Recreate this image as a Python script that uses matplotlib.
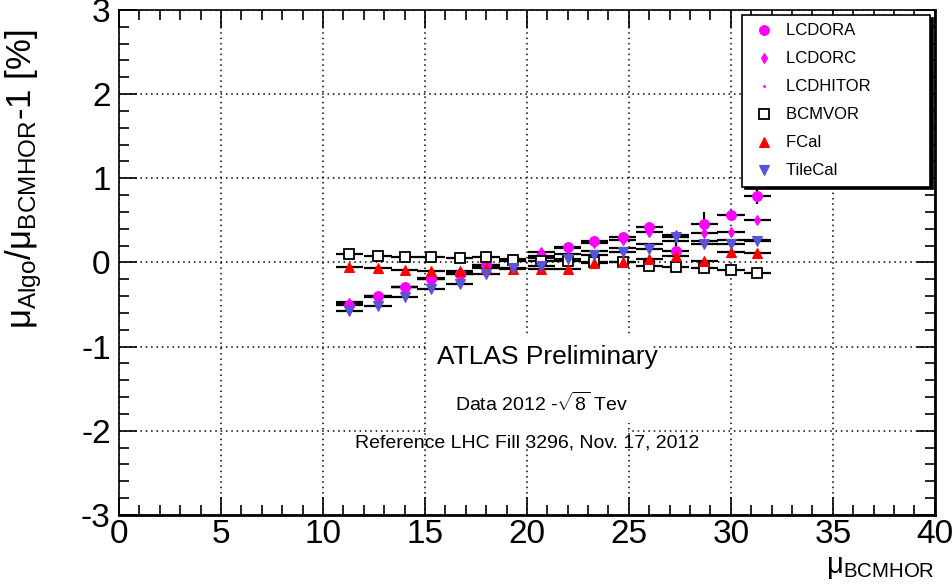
import matplotlib.pyplot as plt
from matplotlib.patches import Rectangle
from matplotlib.ticker import MultipleLocator

plt.rcParams['font.family'] = ['Liberation Sans', 'DejaVu Sans']
plt.rcParams['mathtext.fontset'] = 'custom'
plt.rcParams['mathtext.rm'] = 'Liberation Sans'
plt.rcParams['mathtext.it'] = 'Liberation Sans:italic'
plt.rcParams['mathtext.default'] = 'regular'
plt.rcParams['axes.unicode_minus'] = False

# bin centres of mu_BCMHOR and half bin width
mu = [11.3, 12.7, 14.0, 15.3, 16.7, 18.0, 19.3, 20.7,
      22.0, 23.3, 24.7, 26.0, 27.3, 28.7, 30.0, 31.3]
half_bin = 0.67

lcdora = [-0.50, -0.40, -0.29, -0.20, -0.14, -0.03, 0.04, 0.08,
          0.18, 0.25, 0.30, 0.42, 0.14, 0.46, 0.56, 0.79]
lcdora_err = [0.03, 0.03, 0.03, 0.03, 0.03, 0.03, 0.03, 0.03,
              0.03, 0.03, 0.03, 0.05, 0.22, 0.14, 0.06, 0.10]
lcdorc = [-0.48, -0.41, -0.29, -0.20, -0.14, -0.03, 0.03, 0.12,
          0.17, 0.23, 0.27, 0.36, 0.33, 0.35, 0.36, 0.51]
lcdhitor = [-0.47, -0.40, -0.29, -0.19, -0.13, -0.05, 0.02, 0.05,
            0.10, 0.14, 0.17, 0.22, 0.25, 0.26, 0.27, 0.27]
bcmvor = [0.10, 0.08, 0.07, 0.07, 0.05, 0.06, 0.03, 0.02,
          0.02, 0.00, 0.00, -0.04, -0.05, -0.06, -0.09, -0.13]
fcal = [-0.055, -0.07, -0.09, -0.10, -0.10, -0.07, -0.08, -0.08,
        -0.08, -0.01, 0.00, 0.04, 0.08, 0.02, 0.12, 0.11]
tilecal = [-0.58, -0.52, -0.41, -0.31, -0.25, -0.14, -0.07, -0.04,
           0.04, 0.09, 0.12, 0.16, 0.30, 0.22, 0.22, 0.25]

series = [
    ('LCDORA', lcdora, lcdora_err, dict(marker='o', color='#ff00ff', ms=7, mec='#ff00ff')),
    ('LCDORC', lcdorc, None, dict(marker='d', color='#ff00ff', ms=5.5, mec='#ff00ff')),
    ('LCDHITOR', lcdhitor, None, dict(marker='.', color='#ff00ff', ms=2.5, mec='#ff00ff')),
    ('BCMVOR', bcmvor, None, dict(marker='s', color='white', ms=7, mec='black', mew=1.3)),
    ('FCal', fcal, None, dict(marker='^', color='#ff0000', ms=7, mec='#ff0000')),
    ('TileCal', tilecal, None, dict(marker='v', color='#5954d8', ms=7, mec='#5954d8')),
]

fig = plt.figure(figsize=(9.53, 5.87), dpi=100)
ax = fig.add_axes([0.1249, 0.1227, 0.856, 0.8603])

handles = []
for name, vals, err, st in series:
    ax.errorbar(mu, vals, xerr=half_bin, yerr=err, fmt='none', ecolor='black',
                elinewidth=1.6, capsize=0, zorder=3)
for name, vals, err, st in series:
    line, = ax.plot(mu, vals, linestyle='none', marker=st['marker'], color=st['color'],
                    markersize=st['ms'], markeredgecolor=st['mec'],
                    markeredgewidth=st.get('mew', 0.8), label=name, zorder=4)
    handles.append(line)

ax.set_xlim(0, 40)
ax.set_ylim(-3, 3)
ax.xaxis.set_major_locator(MultipleLocator(5))
ax.xaxis.set_minor_locator(MultipleLocator(1))
ax.yaxis.set_major_locator(MultipleLocator(1))
ax.yaxis.set_minor_locator(MultipleLocator(0.2))
ax.tick_params(which='both', direction='in', top=True, right=True, width=1.2)
ax.tick_params(which='major', length=13, labelsize=24)
ax.tick_params(which='minor', length=7)
ax.tick_params(axis='x', pad=3)
ax.tick_params(axis='y', pad=6)
for s in ax.spines.values():
    s.set_linewidth(1.2)
ax.spines['right'].set_linewidth(2)
ax.spines['bottom'].set_linewidth(2)

ax.grid(True, which='major', color='black', linestyle=(0, (1, 2.5)), linewidth=1.1, zorder=0)
ax.set_axisbelow(True)

ax.set_ylabel(r'$\mu_{Algo}/\mu_{BCMHOR}$-1 [%]', fontsize=25)
ax.yaxis.set_label_coords(-0.092, 0.665)
ax.set_xlabel(r'$\mu_{BCMHOR}$', fontsize=21, loc='right', labelpad=2)

# white pave behind the ATLAS label
ax.add_patch(Rectangle((15.05, -1.91), 11.1, 1.05, facecolor='white', edgecolor='none', zorder=1))
ax.add_patch(Rectangle((15.05, -2.08), 9.9, 0.18, facecolor='white', edgecolor='none', zorder=1))
ax.text(21.0, -1.12, 'ATLAS Preliminary', fontsize=19, ha='center', va='center', zorder=5)
ax.text(20.7, -1.67, r'Data 2012 -$\sqrt{8}$ Tev', fontsize=14, ha='center', va='center', zorder=5)
ax.text(20.0, -2.14, 'Reference LHC Fill 3296, Nov. 17, 2012', fontsize=14,
        ha='center', va='center', zorder=5)

leg = ax.legend(handles=handles, loc='upper right', bbox_to_anchor=(0.994, 0.99),
                fontsize=12, frameon=True, fancybox=False, edgecolor='black',
                framealpha=1, borderpad=0.5, labelspacing=0.78, handletextpad=0.55,
                handlelength=1.6, borderaxespad=0,
                shadow={'facecolor': 'black', 'edgecolor': 'black', 'alpha': 1})
leg.get_frame().set_linewidth(1.2)
leg.set_zorder(10)
for t in leg.get_texts():
    t.set_text(t.get_text() + '           ')

fig.savefig('out.png', dpi=100)
